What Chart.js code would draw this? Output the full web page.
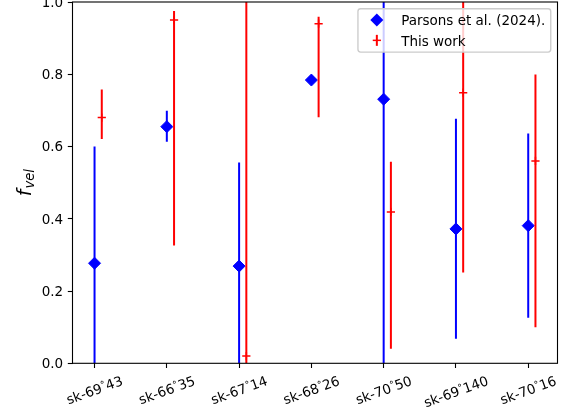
<!DOCTYPE html>
<html>
<head>
<meta charset="utf-8">
<script src="https://cdn.jsdelivr.net/npm/chart.js@4.4.1/dist/chart.umd.min.js"></script>
<style>
  html, body { margin: 0; padding: 0; background: #ffffff; }
  #wrap { width: 573px; height: 415px; }
</style>
</head>
<body>
<div id="wrap"><canvas id="chart" width="573" height="415"></canvas></div>
<script>
// Stars / sources along the x axis
const categories = ['sk-69°43', 'sk-66°35', 'sk-67°14', 'sk-68°26', 'sk-70°50', 'sk-69°140', 'sk-70°16'];

// Parsons et al. (2024): value with lower / upper ends of the error bar
const parsonsValues = [0.277, 0.655, 0.269, 0.784, 0.731, 0.372, 0.381];
const parsonsLower  = [0.000, 0.613, 0.000, 0.784, 0.000, 0.068, 0.126];
const parsonsUpper  = [0.600, 0.699, 0.556, 0.784, 1.100, 0.677, 0.636];

// This work: value with lower / upper ends of the error bar
const thisWorkValues = [0.680, 0.950, 0.020, 0.940, 0.419, 0.749, 0.560];
const thisWorkLower  = [0.621, 0.326, 0.000, 0.681, 0.040, 0.251, 0.100];
const thisWorkUpper  = [0.758, 0.975, 1.100, 0.959, 0.558, 1.100, 0.799];

const yTickValues = [0.0, 0.2, 0.4, 0.6, 0.8, 1.0];
const yTickLabels = ['0.0', '0.2', '0.4', '0.6', '0.8', '1.0'];
const seriesNames = ['Parsons et al. (2024).', 'This work'];
const xShift = 0.1; // second series sits slightly right of each category

const FONT = 'DejaVu Sans';
const FS = 13.5;
const TICK_LEN = 4.7;
const TICK_PAD = 4.7;

Chart.defaults.font.family = FONT;
Chart.defaults.font.size = FS;
Chart.defaults.color = '#000000';

// Vertical error bars, drawn right before each dataset's markers
const errorBarPlugin = {
  id: 'errorBars',
  beforeDatasetDraw(chart, args) {
    const ds = chart.data.datasets[args.index];
    if (!ds.errorBars) return;
    const { ctx, chartArea, scales } = chart;
    ctx.save();
    ctx.beginPath();
    ctx.rect(chartArea.left, chartArea.top, chartArea.right - chartArea.left, chartArea.bottom - chartArea.top);
    ctx.clip();
    ctx.strokeStyle = ds.borderColor;
    ctx.lineWidth = ds.errorBars.width;
    ctx.lineCap = 'butt';
    ds.data.forEach((pt, i) => {
      const x = scales.x.getPixelForValue(pt.x);
      const y0 = scales.y.getPixelForValue(ds.errorBars.lower[i]);
      const y1 = scales.y.getPixelForValue(ds.errorBars.upper[i]);
      if (Math.abs(y1 - y0) < 0.01) return;
      ctx.beginPath();
      ctx.moveTo(x, y0);
      ctx.lineTo(x, y1);
      ctx.stroke();
    });
    ctx.restore();
  }
};

function drawDiamond(ctx, x, y, r, color) {
  ctx.beginPath();
  ctx.moveTo(x - r, y);
  ctx.lineTo(x, y - r);
  ctx.lineTo(x + r, y);
  ctx.lineTo(x, y + r);
  ctx.closePath();
  ctx.fillStyle = color;
  ctx.fill();
}

// Axes frame, tick labels, y-axis title and legend box
const decorPlugin = {
  id: 'decor',
  afterDatasetsDraw(chart) {
    const { ctx, chartArea: ca } = chart;
    ctx.save();
    ctx.strokeStyle = '#000000';
    ctx.lineWidth = 1.1;
    ctx.strokeRect(ca.left, ca.top, ca.right - ca.left, ca.bottom - ca.top);
    ctx.restore();
  },
  afterDraw(chart) {
    const { ctx, chartArea: ca, scales } = chart;

    // y tick labels, right-aligned against the tick marks
    ctx.save();
    ctx.font = FS + 'px "' + FONT + '"';
    ctx.fillStyle = '#000000';
    ctx.textAlign = 'right';
    ctx.textBaseline = 'alphabetic';
    yTickValues.forEach((v, i) => {
      const y = scales.y.getPixelForValue(v);
      ctx.fillText(yTickLabels[i], ca.left - TICK_LEN - TICK_PAD, y + 0.364 * FS);
    });
    ctx.restore();

    // category labels, rotated 20 degrees and centred on each tick
    const ang = 20 * Math.PI / 180;
    const small = FS * 0.7;
    categories.forEach((label, i) => {
      const parts = label.split('°');
      ctx.font = FS + 'px "' + FONT + '"';
      const w0 = ctx.measureText(parts[0]).width;
      const w2 = ctx.measureText(parts[1]).width;
      ctx.font = small + 'px "' + FONT + '"';
      const w1 = ctx.measureText('°').width;
      const w = w0 + w1 + w2;
      const h = 1.166 * FS;
      const H = w * Math.sin(ang) + h * Math.cos(ang);
      const cx = scales.x.getPixelForValue(i);
      const cy = ca.bottom + TICK_LEN + TICK_PAD + H / 2;
      ctx.save();
      ctx.translate(cx, cy);
      ctx.rotate(-ang);
      ctx.fillStyle = '#000000';
      ctx.textBaseline = 'alphabetic';
      ctx.textAlign = 'left';
      const base = 0.928 * FS - h / 2;
      let x = -w / 2;
      ctx.font = FS + 'px "' + FONT + '"';
      ctx.fillText(parts[0], x, base);
      x += w0;
      ctx.font = small + 'px "' + FONT + '"';
      ctx.fillText('°', x, base - 4);
      x += w1;
      ctx.font = FS + 'px "' + FONT + '"';
      ctx.fillText(parts[1], x, base);
      ctx.restore();
    });

    // y-axis title: italic f with subscript vel
    ctx.save();
    const fMain = 19;
    const fSub = 13.2;
    ctx.font = 'italic ' + fMain + 'px "' + FONT + '"';
    const wf = ctx.measureText('f').width + 1;
    ctx.font = 'italic ' + fSub + 'px "' + FONT + '"';
    const wv = ctx.measureText('vel').width;
    const tw = wf + wv;
    ctx.translate(31, (ca.top + ca.bottom) / 2);
    ctx.rotate(-Math.PI / 2);
    ctx.fillStyle = '#000000';
    ctx.textAlign = 'left';
    ctx.textBaseline = 'alphabetic';
    ctx.font = 'italic ' + fMain + 'px "' + FONT + '"';
    ctx.fillText('f', -tw / 2, 0);
    ctx.font = 'italic ' + fSub + 'px "' + FONT + '"';
    ctx.fillText('vel', -tw / 2 + wf, 3);
    ctx.restore();

    // legend
    ctx.save();
    ctx.font = FS + 'px "' + FONT + '"';
    const textW = Math.max(...seriesNames.map(s => ctx.measureText(s).width));
    const lw = 0.4 * FS + 2 * FS + 0.8 * FS + textW + 0.4 * FS;
    const lh = 43.3;
    const lx = ca.right - 0.5 * FS - lw;
    const ly = ca.top + 0.5 * FS;
    const rr = 2.7;
    ctx.beginPath();
    ctx.moveTo(lx + rr, ly);
    ctx.lineTo(lx + lw - rr, ly);
    ctx.arcTo(lx + lw, ly, lx + lw, ly + rr, rr);
    ctx.lineTo(lx + lw, ly + lh - rr);
    ctx.arcTo(lx + lw, ly + lh, lx + lw - rr, ly + lh, rr);
    ctx.lineTo(lx + rr, ly + lh);
    ctx.arcTo(lx, ly + lh, lx, ly + lh - rr, rr);
    ctx.lineTo(lx, ly + rr);
    ctx.arcTo(lx, ly, lx + rr, ly, rr);
    ctx.closePath();
    ctx.fillStyle = 'rgba(255,255,255,0.8)';
    ctx.fill();
    ctx.strokeStyle = '#cccccc';
    ctx.lineWidth = 1.35;
    ctx.stroke();

    const hx = lx + 0.4 * FS + FS;
    const row1 = ly + 11.2;
    const row2 = ly + 31.6;
    drawDiamond(ctx, hx, row1, 6.5, '#0000ff');

    ctx.strokeStyle = '#ff0000';
    ctx.lineWidth = 2;
    ctx.beginPath();
    ctx.moveTo(hx, row2 - 5.5);
    ctx.lineTo(hx, row2 + 5.5);
    ctx.stroke();
    ctx.lineWidth = 1.5;
    ctx.beginPath();
    ctx.moveTo(hx - 4.1, row2);
    ctx.lineTo(hx + 4.1, row2);
    ctx.stroke();

    ctx.fillStyle = '#000000';
    ctx.textAlign = 'left';
    ctx.textBaseline = 'alphabetic';
    const tx = lx + 0.4 * FS + 2 * FS + 0.8 * FS;
    ctx.fillText(seriesNames[0], tx, row1 + 5.3);
    ctx.fillText(seriesNames[1], tx, row2 + 5.3);
    ctx.restore();
  }
};

const tickGrid = {
  display: true,
  drawOnChartArea: false,
  drawTicks: true,
  tickLength: TICK_LEN,
  tickWidth: 1.1,
  tickColor: '#000000'
};

const chart = new Chart(document.getElementById('chart'), {
  type: 'scatter',
  data: {
    datasets: [
      {
        label: seriesNames[0],
        data: parsonsValues.map((v, i) => ({ x: i, y: v })),
        pointStyle: 'rectRot',
        pointRadius: 6,
        pointHoverRadius: 6,
        backgroundColor: '#0000ff',
        borderColor: '#0000ff',
        borderWidth: 1,
        order: 2,
        clip: false,
        errorBars: { lower: parsonsLower, upper: parsonsUpper, width: 2 }
      },
      {
        label: seriesNames[1],
        data: thisWorkValues.map((v, i) => ({ x: i + xShift, y: v })),
        pointStyle: 'cross',
        pointRadius: 4.1,
        pointHoverRadius: 4.1,
        backgroundColor: '#ff0000',
        borderColor: '#ff0000',
        borderWidth: 1.5,
        order: 1,
        clip: false,
        errorBars: { lower: thisWorkLower, upper: thisWorkUpper, width: 2 }
      }
    ]
  },
  options: {
    responsive: false,
    devicePixelRatio: 1,
    animation: false,
    events: [],
    layout: { autoPadding: false, padding: { left: 0, right: 15.5, top: 2, bottom: 0 } },
    plugins: {
      legend: { display: false },
      tooltip: { enabled: false },
      title: { display: false }
    },
    scales: {
      x: {
        type: 'linear',
        min: -0.305,
        max: 6.405,
        afterBuildTicks(scale) {
          scale.ticks = categories.map((c, i) => ({ value: i }));
        },
        afterFit(scale) {
          scale.height = 51.7;
          scale.paddingLeft = 0;
          scale.paddingRight = 0;
        },
        ticks: { display: false },
        grid: tickGrid,
        border: { display: false }
      },
      y: {
        type: 'linear',
        min: 0,
        max: 1,
        afterBuildTicks(scale) {
          scale.ticks = yTickValues.map(v => ({ value: v }));
        },
        afterFit(scale) {
          scale.width = 72.5;
          scale.paddingTop = 0;
          scale.paddingBottom = 0;
        },
        ticks: { display: false },
        grid: tickGrid,
        border: { display: false }
      }
    }
  },
  plugins: [errorBarPlugin, decorPlugin]
});
</script>
</body>
</html>
